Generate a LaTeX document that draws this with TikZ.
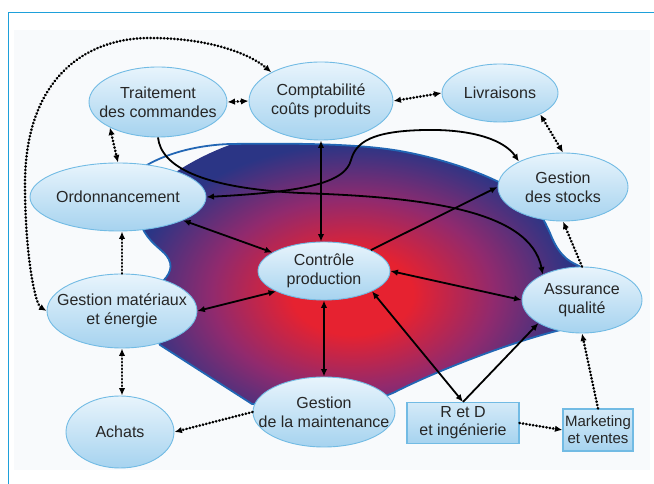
\documentclass[tikz,border=0pt]{standalone}
\usepackage{fontspec}
\setmainfont{Liberation Sans}
\usetikzlibrary{shapes.geometric,arrows.meta}

\definecolor{frameblue}{HTML}{1EA0DA}
\definecolor{paper}{HTML}{F8FAFC}
\definecolor{blobred}{HTML}{E62230}
\definecolor{blobmid}{HTML}{902A6E}
\definecolor{blobblue}{HTML}{2B3585}
\definecolor{blobedge}{HTML}{2266B4}
\definecolor{bubtop}{HTML}{E8F4FC}
\definecolor{bubbot}{HTML}{A6D3EF}
\definecolor{bubline}{HTML}{72BBE4}
\definecolor{ink}{HTML}{262626}

% red core fading to deep blue at the rim
\pgfdeclareradialshading{blobglow}{\pgfpoint{0bp}{0bp}}{%
  color(0bp)=(blobred); color(6bp)=(blobred); color(14bp)=(blobmid);
  color(22bp)=(blobblue); color(25bp)=(blobblue); color(50bp)=(blobblue)}

\begin{document}
\begin{tikzpicture}[x=1pt,y=1pt,
  >={Latex[length=7.5pt,width=6.5pt]},
  txt/.style={align=center, text=ink, font=\fontsize{16}{19}\selectfont},
  bubble/.style={ellipse, draw=bubline, line width=0.9pt, top color=bubtop,
    bottom color=bubbot, inner sep=0pt, label={[txt]center:#1}},
  box/.style={rectangle, draw=bubline, line width=1.1pt, top color=bubtop!70!bubbot,
    bottom color=bubbot, text=ink, align=center, inner sep=0pt,
    font=\fontsize{16}{18}\selectfont},
  link/.style={line width=1.8pt, black},
  dots/.style={line width=2.7pt, black, dash pattern=on 0.3pt off 3.1pt, line cap=round}]

\useasboundingbox (0,0) rectangle (654,484);

% page frame and paper
\fill[paper] (14,14) rectangle (650,454);
\draw[frameblue, line width=1pt] (654,471) -- (8,471) -- (8,0);

% production zone
\path[draw=blobedge, line width=1.8pt,
  path picture={\shade[shading=blobglow] (350,190) ellipse (250 and 170);}]
  (147,319) .. controls (170,332) and (200,339) .. (230,340)
  .. controls (300,341) and (360,340) .. (400,333)
  .. controls (440,326) and (490,310) .. (520,290)
  .. controls (538,278) and (545,262) .. (550,251)
  .. controls (555,238) and (562,226) .. (575,220)
  .. controls (600,210) and (605,170) .. (565,155)
  .. controls (520,145) and (440,115) .. (395,92)
  .. controls (360,75) and (290,78) .. (252,80)
  -- (160,139)
  .. controls (150,160) and (155,190) .. (163,203)
  .. controls (172,212) and (174,222) .. (163,232)
  .. controls (152,242) and (141,250) .. (139,270)
  .. controls (137,290) and (138,308) .. cycle;

% functions
\node[bubble={Traitement\\des commandes}, minimum width=138pt, minimum height=70pt] (trait) at (158,382) {};
\node[bubble={Comptabilité\\coûts produits}, minimum width=144pt, minimum height=78pt] (comp) at (321,383) {};
\node[bubble={Livraisons}, minimum width=116pt, minimum height=58pt] (livr) at (500,391) {};
\node[bubble={Gestion\\des stocks}, minimum width=130pt, minimum height=68pt] (stock) at (563,297) {};
\node[bubble={Ordonnancement}, minimum width=176pt, minimum height=68pt] (ordo) at (118,287) {};
\node[bubble={Contrôle\\production}, minimum width=132pt, minimum height=58pt] (ctrl) at (324,213) {};
\node[bubble={Gestion matériaux\\et énergie}, minimum width=150pt, minimum height=74pt] (mat) at (122,173) {};
\node[bubble={Assurance\\qualité}, minimum width=120pt, minimum height=66pt] (assur) at (582,184) {};
\node[bubble={Achats}, minimum width=108pt, minimum height=72pt] (achat) at (120,52) {};
\node[bubble={Gestion\\de la maintenance}, minimum width=142pt, minimum height=70pt] (maint) at (324,72) {};
\node[box, minimum width=112pt, minimum height=41pt] (rd) at (463,61) {R et D\\et ingénierie};
\node[box, minimum width=70pt, minimum height=42pt, font=\fontsize{15}{17}\selectfont] (mkt) at (598,54) {Marketing\\et ventes};

% information flows
\draw[link,<->] (comp.south) -- (comp.south |- ctrl.north);
\draw[link,<->] (ordo) -- (ctrl);
\draw[link,->] (ctrl.24) -- (stock.west);
\draw[link,<->] (ordo.east) .. controls (300,292) and (345,300) .. (351,324)
  .. controls (356,342) and (372,353) .. (425,354)
  .. controls (475,355) and (505,343) .. (stock.150);
\draw[link,->] (trait.south) .. controls (161,318) and (200,296) .. (300,291)
  .. controls (420,287) and (530,275) .. (assur.147);
\draw[link,<->] (ctrl.east) -- (assur.west);
\draw[link,<->] (mat.east) -- (ctrl.203);
\draw[link,<->] (ctrl.south) -- (ctrl.south |- maint.north);
\draw[link,<->] (ctrl.-23) -- (rd.north);
\draw[link,->] (rd.north) -- (assur.208);

% material flows
\draw[dots,<->] (trait.east) -- (comp.west);
\draw[dots,<->] (comp.east) -- (livr.west);
\draw[dots,<->] (livr.-28) -- (stock.north);
\draw[dots,<->] (trait.208) -- (ordo.north);
\draw[dots,<->] (mat.west) .. controls (35,180) and (25,230) .. (25,300)
  .. controls (25,400) and (80,446) .. (150,446)
  .. controls (210,446) and (250,430) .. (comp.150);
\draw[dots,->] (mat.north) -- (mat.north |- ordo.south);
\draw[dots,<->] (mat.south) -- (mat.south |- achat.north);
\draw[dots,->] (maint.west) -- (achat.east);
\draw[dots,->] (rd.east) -- (mkt.west);
\draw[dots,->] (mkt.north) -- (assur.south);
\draw[dots,->] (assur.north) -- (stock.south);
\end{tikzpicture}
\end{document}
